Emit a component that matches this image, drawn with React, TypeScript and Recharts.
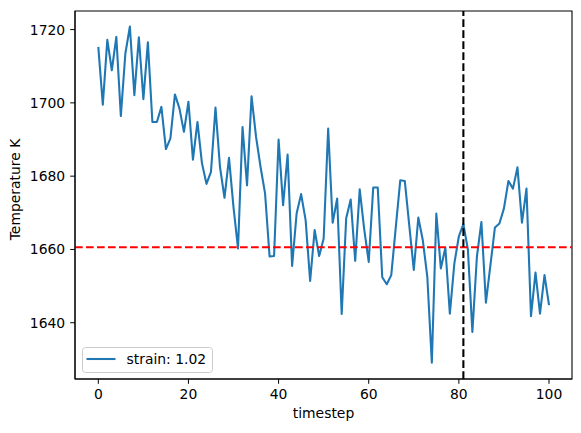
import { LineChart, Line, XAxis, YAxis, ReferenceLine, ReferenceArea, Legend } from "recharts";

const temperatures = [
  1715.3, 1699.5, 1717.2, 1708.9, 1718.0, 1696.4, 1713.4, 1720.8, 1702.1, 1717.9,
  1701.0, 1716.5, 1694.8, 1694.8, 1698.9, 1687.4, 1690.3, 1702.3, 1698.5, 1692.1,
  1700.3, 1684.5, 1694.8, 1683.5, 1677.9, 1681.2, 1698.7, 1682.5, 1674.1, 1685.0,
  1671.5, 1660.3, 1693.4, 1677.5, 1701.8, 1690.7, 1682.5, 1675.3, 1658.1, 1658.2,
  1690.0, 1672.1, 1685.9, 1655.5, 1669.8, 1675.1, 1668.0, 1651.4, 1665.3, 1658.2,
  1663.0, 1693.0, 1667.3, 1673.9, 1642.4, 1668.5, 1673.6, 1656.9, 1676.4, 1665.5,
  1656.6, 1676.9, 1676.9, 1652.4, 1650.5, 1653.0, 1666.0, 1678.9, 1678.7, 1666.5,
  1654.4, 1668.7, 1662.5, 1652.5, 1629.1, 1669.8, 1654.8, 1660.5, 1642.5, 1656.2,
  1663.6, 1666.9, 1660.0, 1637.5, 1658.0, 1667.5, 1645.5, 1655.7, 1666.0, 1667.1,
  1671.2, 1678.7, 1676.6, 1682.4, 1667.3, 1676.6, 1641.8, 1653.7, 1642.5, 1653.0,
  1644.8,
];
const timesteps = temperatures.map((_, i) => i);

const xTicks = [0, 20, 40, 60, 80, 100];
const yTicks = [1640, 1660, 1680, 1700, 1720];
const xDomain = [-5.17, 105.1];
const yDomain = [1624.65, 1725.07];
const thresholdTemp = 1660.6;
const markerStep = 81;
const seriesName = "strain: 1.02";

const data = timesteps.map((t, i) => ({ timestep: t, temp: temperatures[i] }));

const FONT = "DejaVu Sans, sans-serif";
const BLUE = "#1f77b4";

function LegendBox() {
  return (
    <svg width={131} height={26} style={{ display: "block" }}>
      <rect x={0.5} y={0.5} width={130} height={25} rx={3} fill="#fff" fillOpacity={0.8} stroke="#cccccc" />
      <line x1={4.5} x2={33.5} y1={12} y2={12} stroke={BLUE} strokeWidth={2.08} />
      <text x={44.5} y={12} dominantBaseline="central" fontFamily={FONT} fontSize={13.9} fill="#000">
        {seriesName}
      </text>
    </svg>
  );
}

export default function App() {
  return (
    <LineChart
      width={573}
      height={425}
      data={data}
      margin={{ top: 3, right: 9, bottom: 0, left: 0 }}
      style={{ fontFamily: FONT }}
    >
      <XAxis
        dataKey="timestep"
        type="number"
        domain={xDomain}
        ticks={xTicks}
        allowDataOverflow
        height={54}
        tickSize={4.8}
        tickMargin={5}
        stroke="#000"
        tick={{ fill: "#000", fontSize: 13.9, fontFamily: FONT }}
        label={{
          content: (p: any) => (
            <text
              x={p.viewBox.x + p.viewBox.width / 2}
              y={410}
              textAnchor="middle"
              fontFamily={FONT}
              fontSize={13.9}
              fill="#000"
            >
              timestep
            </text>
          ),
        }}
      />
      <YAxis
        type="number"
        domain={yDomain}
        ticks={yTicks}
        allowDataOverflow
        width={67}
        tickSize={4.8}
        tickMargin={5}
        stroke="#000"
        tick={{ fill: "#000", fontSize: 13.9, fontFamily: FONT }}
        label={{
          content: () => (
            <text
              x={11.5}
              y={181.5}
              transform="rotate(-90 11.5 181.5)"
              textAnchor="middle"
              fontFamily={FONT}
              fontSize={13.9}
              fill="#000"
            >
              Temperature K
            </text>
          ),
        }}
      />
      <ReferenceArea
        x1={xDomain[0]}
        x2={xDomain[1]}
        y1={yDomain[0]}
        y2={yDomain[1]}
        fill="none"
        stroke="#000"
        strokeWidth={1.1}
        ifOverflow="extendDomain"
      />
      <Line
        type="linear"
        dataKey="temp"
        name={seriesName}
        stroke={BLUE}
        strokeWidth={2.08}
        strokeLinejoin="round"
        dot={false}
        activeDot={false}
        isAnimationActive={false}
      />
      <ReferenceLine y={thresholdTemp} stroke="#ff0000" strokeWidth={2.08} strokeDasharray="7.7 3.3" />
      <ReferenceLine x={markerStep} stroke="#000" strokeWidth={2.08} strokeDasharray="7.7 3.3" />
      <Legend
        layout="vertical"
        align="center"
        verticalAlign="middle"
        wrapperStyle={{ left: 74, top: 339, width: 131, height: 26 }}
        content={() => <LegendBox />}
      />
    </LineChart>
  );
}
